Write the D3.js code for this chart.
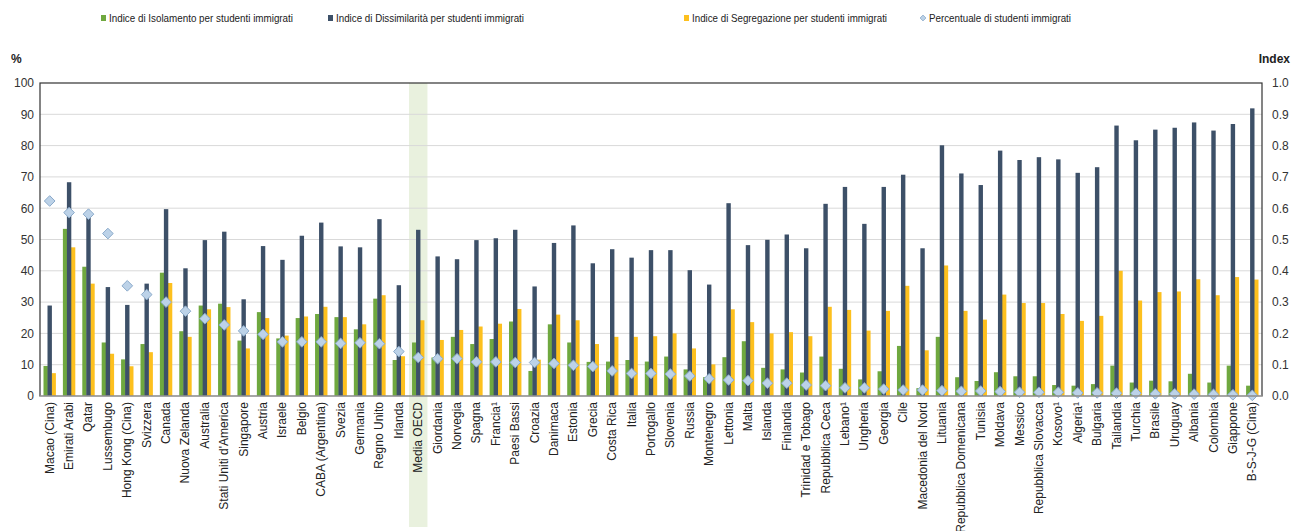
<!DOCTYPE html>
<html><head><meta charset="utf-8">
<script src="https://cdn.jsdelivr.net/npm/d3@7"></script>
<style>
body{margin:0;background:#fff;}
svg{display:block;font-family:"Liberation Sans",Arial,sans-serif;}
</style></head>
<body><svg id="c" width="1293" height="531"></svg>
<script>
const categories = ["Macao (Cina)","Emirati Arabi","Qatar","Lussembugo","Hong Kong (Cina)","Svizzera","Canada","Nuova Zelanda","Australia","Stati Uniti d'America","Singapore","Austria","Israele","Belgio","CABA (Argentina)","Svezia","Germania","Regno Unito","Irlanda","Media OECD","Giordania","Norvegia","Spagna","Francia¹","Paesi Bassi","Croazia","Danimaca","Estonia","Grecia","Costa Rica","Italia","Portogallo","Slovenia","Russia","Montenegro","Lettonia","Malta","Islanda","Finlandia","Trinidad e Tobago","Repubblica Ceca","Lebano¹","Ungheria","Georgia","Cile","Macedonia del Nord","Lituania","Repubblica Domenicana","Tunisia","Moldava","Messico","Repubblica Slovacca","Kosovo¹","Algeria¹","Bulgaria","Tailandia","Turchia","Brasile","Uruguay","Albania","Colombia","Giappone","B-S-J-G (Cina)"];
const isolamento = [0.096,0.534,0.413,0.171,0.117,0.166,0.394,0.207,0.289,0.295,0.177,0.268,0.184,0.249,0.262,0.252,0.213,0.311,0.115,0.171,0.123,0.189,0.166,0.182,0.238,0.080,0.229,0.171,0.109,0.110,0.115,0.110,0.126,0.085,0.060,0.124,0.175,0.090,0.085,0.075,0.126,0.087,0.053,0.079,0.160,0.025,0.189,0.060,0.048,0.076,0.063,0.063,0.035,0.033,0.038,0.097,0.043,0.049,0.047,0.071,0.043,0.097,0.033];
const dissimilarita = [0.289,0.683,0.574,0.348,0.291,0.359,0.597,0.408,0.498,0.525,0.309,0.479,0.435,0.512,0.554,0.478,0.475,0.565,0.354,0.531,0.446,0.437,0.498,0.504,0.531,0.350,0.489,0.545,0.424,0.469,0.442,0.466,0.466,0.402,0.356,0.616,0.482,0.499,0.516,0.472,0.614,0.668,0.550,0.668,0.707,0.472,0.801,0.711,0.674,0.784,0.754,0.763,0.756,0.713,0.731,0.864,0.817,0.851,0.857,0.874,0.848,0.869,0.919];
const segregazione = [0.073,0.475,0.359,0.135,0.095,0.140,0.361,0.189,0.277,0.284,0.152,0.249,0.193,0.254,0.285,0.252,0.229,0.322,0.127,0.242,0.179,0.211,0.222,0.231,0.278,0.116,0.260,0.242,0.166,0.189,0.189,0.191,0.200,0.152,0.101,0.277,0.236,0.200,0.204,0.191,0.285,0.275,0.209,0.272,0.352,0.146,0.417,0.272,0.244,0.324,0.297,0.297,0.262,0.240,0.256,0.400,0.305,0.332,0.334,0.373,0.322,0.380,0.372];
const percentuale = [62.3,58.6,58.1,51.9,35.2,32.4,30.0,27.1,24.7,22.7,20.8,19.7,17.3,17.3,17.3,16.8,17.0,16.7,14.2,12.3,11.9,11.9,10.9,10.9,10.7,10.7,10.4,9.8,9.4,8.0,7.2,7.2,7.0,6.4,5.5,5.1,4.9,4.1,4.1,3.5,3.3,2.6,2.6,2.2,1.9,1.9,1.7,1.5,1.6,1.4,1.2,1.2,1.2,1.0,1.0,0.9,0.9,0.7,0.7,0.6,0.5,0.4,0.2];
const leftTicks = [0,10,20,30,40,50,60,70,80,90,100];
const rightTicks = [0,0.1,0.2,0.3,0.4,0.5,0.6,0.7,0.8,0.9,1.0];
const highlight = "Media OECD";
const seriesNames = ["Indice di Isolamento per studenti immigrati","Indice di Dissimilarità per studenti immigrati","Indice di Segregazione per studenti immigrati","Percentuale di studenti immigrati"];

const colors = {green:"#6fa83f", dark:"#3d5068", yellow:"#fdc01e", diaFill:"#bcd2e8", diaStroke:"#8aa9c9"};
const svg = d3.select("#c");
const L=40,R=1262,T=83,B=396;
const x = d3.scaleBand().domain(categories).range([L,R]).padding(0);
const yL = d3.scaleLinear().domain([0,100]).range([B,T]);
const yR = d3.scaleLinear().domain([0,1]).range([B,T]);

// highlight band
svg.append("rect").attr("x",x(highlight)+0.5).attr("y",T).attr("width",x.bandwidth()-1).attr("height",527-T)
  .attr("fill","#e9f1de");

// gridlines
svg.append("g").selectAll("line").data(leftTicks.filter(d=>d>0&&d<100)).join("line")
  .attr("x1",L).attr("x2",R).attr("y1",d=>yL(d)).attr("y2",d=>yL(d))
  .attr("stroke","#d9d9d9").attr("stroke-width",1);

// axes
const axL = svg.append("g").attr("transform",`translate(${L},0)`)
  .call(d3.axisLeft(yL).tickValues(leftTicks).tickSize(0).tickPadding(6));
axL.select(".domain").remove();
axL.selectAll("text").attr("font-size",12).attr("fill","#333");
const axR = svg.append("g").attr("transform",`translate(${R},0)`)
  .call(d3.axisRight(yR).tickValues(rightTicks).tickSize(0).tickPadding(10).tickFormat(d3.format(".1f")));
axR.select(".domain").remove();
axR.selectAll("text").attr("font-size",12).attr("fill","#333");

// bars
const bw = 4.4;
const groups = svg.append("g").selectAll("g").data(categories).join("g")
  .attr("transform",d=>`translate(${x(d)+x.bandwidth()/2},0)`);
groups.append("rect").attr("x",-4-bw/2).attr("width",bw)
  .attr("y",(d,i)=>yR(isolamento[i])).attr("height",(d,i)=>B-yR(isolamento[i])).attr("fill",colors.green);
groups.append("rect").attr("x",4-bw/2).attr("width",bw)
  .attr("y",(d,i)=>yR(segregazione[i])).attr("height",(d,i)=>B-yR(segregazione[i])).attr("fill",colors.yellow);
groups.append("rect").attr("x",-bw/2).attr("width",bw)
  .attr("y",(d,i)=>yR(dissimilarita[i])).attr("height",(d,i)=>B-yR(dissimilarita[i])).attr("fill",colors.dark);
// diamonds
const dsym = d3.symbol().type(d3.symbolDiamond2).size(60);
groups.append("path").attr("d",dsym)
  .attr("transform",(d,i)=>`translate(0,${yL(percentuale[i])}) scale(1.1)`)
  .attr("fill",colors.diaFill).attr("stroke",colors.diaStroke).attr("stroke-width",0.9);

// frame
svg.append("rect").attr("x",L).attr("y",T).attr("width",R-L).attr("height",B-T)
  .attr("fill","none").attr("stroke","#333").attr("stroke-width",1.2);
svg.append("line").attr("x1",L).attr("x2",R).attr("y1",B).attr("y2",B).attr("stroke","#c8c8c8");

// x labels
svg.append("g").selectAll("text").data(categories).join("text")
  .attr("transform",d=>`translate(${x(d)+x.bandwidth()/2+4},402) rotate(-90)`)
  .attr("text-anchor","end").attr("font-size",12).attr("fill","#222").text(d=>d);

// axis titles
svg.append("text").attr("x",11).attr("y",63).attr("font-size",12).attr("font-weight","bold").attr("fill","#222").text("%");
svg.append("text").attr("x",1290).attr("y",63).attr("text-anchor","end").attr("font-size",12).attr("font-weight","bold").attr("fill","#222").text("Index");

// legend
const leg = [{x:101,c:colors.green,t:seriesNames[0],s:"sq",w:184},{x:328,c:colors.dark,t:seriesNames[1],s:"sq",w:188},{x:684,c:colors.yellow,t:seriesNames[2],s:"sq",w:195},{x:921,c:colors.diaFill,t:seriesNames[3],s:"dia",w:142}];
const lg = svg.append("g").selectAll("g").data(leg).join("g").attr("transform",d=>`translate(${d.x},18)`);
lg.filter(d=>d.s==="sq").append("rect").attr("x",0).attr("y",-3).attr("width",5).attr("height",6).attr("fill",d=>d.c);
lg.filter(d=>d.s==="dia").append("path").attr("d",d3.symbol().type(d3.symbolDiamond2).size(22)).attr("transform","translate(2,0)")
  .attr("fill",colors.diaFill).attr("stroke",colors.diaStroke).attr("stroke-width",0.8);
lg.append("text").attr("x",8).attr("y",4).attr("font-size",11.5).attr("fill","#222")
  .attr("textLength",d=>d.w).attr("lengthAdjust","spacingAndGlyphs").text(d=>d.t);
</script></body></html>
